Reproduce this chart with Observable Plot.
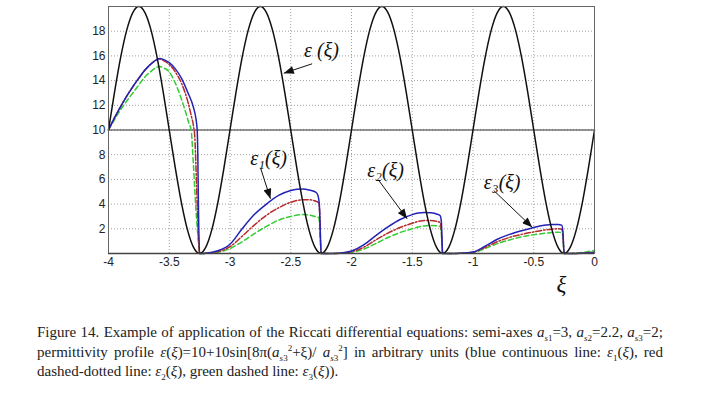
<!DOCTYPE html>
<html>
<head>
<meta charset="utf-8">
<script src="https://cdn.jsdelivr.net/npm/d3@7"></script>
<script src="https://cdn.jsdelivr.net/npm/@observablehq/plot@0.6"></script>
<style>
  body { margin: 0; background: #fff; }
  #chart svg { display: block; }
  .cap { font-family: "Liberation Serif", "Times New Roman", serif; font-size: 15px; line-height: 19.5px; color: #222; width: 626px; margin-left: 37px; }
  .cap .j { text-align: justify; text-align-last: justify; }
  .cap sub, .cap sup { font-size: 9px; line-height: 0; }
</style>
</head>
<body>
<div id="chart"></div>
<div class="cap" style="margin-top:13px">
  <div class="j">Figure 14. Example of application of the Riccati differential equations: semi-axes <i>a</i><sub><i>s</i>1</sub>=3, <i>a</i><sub><i>s</i>2</sub>=2.2, <i>a</i><sub><i>s</i>3</sub>=2;</div>
  <div class="j">permittivity profile <i>ε</i>(<i>ξ</i>)=10+10sin[8π(<i>a</i><sub><i>s</i>3</sub><sup>2</sup>+ξ)/ <i>a</i><sub><i>s</i>3</sub><sup>2</sup>] in arbitrary units (blue continuous line: <i>ε</i><sub>1</sub>(<i>ξ</i>), red</div>
  <div>dashed-dotted line: <i>ε</i><sub>2</sub>(<i>ξ</i>), green dashed line: <i>ε</i><sub>3</sub>(<i>ξ</i>)).</div>
</div>
<script>
const xTicks = [-4, -3.5, -3, -2.5, -2, -1.5, -1, -0.5, 0];
const yTicks = [2, 4, 6, 8, 10, 12, 14, 16, 18];

// permittivity profile epsilon(xi), sampled every 0.05 from -4 to 0
const epsValues = [
  10, 13.09, 15.88, 18.09, 19.51, 20, 19.51, 18.09, 15.88, 13.09, 10, 6.91, 4.12, 1.91, 0.49, 0, 0.49, 1.91, 4.12, 6.91,
  10, 13.09, 15.88, 18.09, 19.51, 20, 19.51, 18.09, 15.88, 13.09, 10, 6.91, 4.12, 1.91, 0.49, 0, 0.49, 1.91, 4.12, 6.91,
  10, 13.09, 15.88, 18.09, 19.51, 20, 19.51, 18.09, 15.88, 13.09, 10, 6.91, 4.12, 1.91, 0.49, 0, 0.49, 1.91, 4.12, 6.91,
  10, 13.09, 15.88, 18.09, 19.51, 20, 19.51, 18.09, 15.88, 13.09, 10, 6.91, 4.12, 1.91, 0.49, 0, 0.49, 1.91, 4.12, 6.91,
  10
];
const epsXi = epsValues.map((_, i) => -4 + i * 0.05);

// eps1 (blue, continuous)
const eps1 = [
  [-4, 10], [-3.95, 11], [-3.9, 11.9], [-3.85, 12.75], [-3.8, 13.5], [-3.75, 14.2], [-3.7, 14.85], [-3.65, 15.35],
  [-3.6, 15.72], [-3.58, 15.78], [-3.55, 15.72], [-3.5, 15.45], [-3.45, 14.95], [-3.4, 14.2], [-3.35, 13.1],
  [-3.3, 11.8], [-3.28, 10.9], [-3.27, 10], [-3.265, 8], [-3.26, 4], [-3.25, 0],
  [-3.2, 0.02], [-3.1, 0.22], [-3.0, 0.75], [-2.9, 2.0], [-2.8, 3.15], [-2.7, 4.0], [-2.6, 4.7], [-2.5, 5.1],
  [-2.45, 5.2], [-2.4, 5.22], [-2.35, 5.15], [-2.3, 5.0], [-2.28, 4.8], [-2.265, 4.0], [-2.25, 0],
  [-2.2, 0], [-2.1, 0.03], [-2.0, 0.2], [-1.9, 0.7], [-1.8, 1.45], [-1.7, 2.15], [-1.6, 2.75], [-1.5, 3.15],
  [-1.45, 3.28], [-1.4, 3.33], [-1.35, 3.3], [-1.3, 3.2], [-1.27, 3.05], [-1.26, 2.5], [-1.25, 0],
  [-1.2, 0], [-1.1, 0.02], [-1.0, 0.12], [-0.9, 0.6], [-0.8, 1.15], [-0.7, 1.55], [-0.6, 1.85], [-0.5, 2.1],
  [-0.45, 2.22], [-0.4, 2.3], [-0.35, 2.35], [-0.3, 2.35], [-0.27, 2.3], [-0.26, 1.8], [-0.25, 0],
  [-0.2, 0], [-0.1, 0.02], [0, 0.08]
];
// eps2 (red, dash-dot)
const eps2 = [
  [-4, 10], [-3.95, 11], [-3.9, 11.9], [-3.85, 12.75], [-3.8, 13.5], [-3.75, 14.2], [-3.7, 14.85], [-3.65, 15.35],
  [-3.6, 15.7], [-3.58, 15.75], [-3.55, 15.65], [-3.5, 15.3], [-3.45, 14.7], [-3.4, 13.8], [-3.35, 12.4],
  [-3.32, 11.2], [-3.3, 10.3], [-3.29, 9.5], [-3.28, 7], [-3.27, 4], [-3.25, 0],
  [-3.2, 0.02], [-3.1, 0.15], [-3.0, 0.55], [-2.9, 1.4], [-2.8, 2.3], [-2.7, 3.1], [-2.6, 3.7], [-2.5, 4.15],
  [-2.4, 4.35], [-2.35, 4.35], [-2.3, 4.25], [-2.27, 4.1], [-2.26, 3.0], [-2.25, 0],
  [-2.2, 0], [-2.1, 0.03], [-2.0, 0.15], [-1.9, 0.5], [-1.8, 1.1], [-1.7, 1.65], [-1.6, 2.1], [-1.5, 2.45],
  [-1.45, 2.6], [-1.4, 2.67], [-1.35, 2.67], [-1.3, 2.6], [-1.27, 2.5], [-1.26, 1.8], [-1.25, 0],
  [-1.2, 0], [-1.1, 0.02], [-1.0, 0.1], [-0.9, 0.5], [-0.8, 0.95], [-0.7, 1.3], [-0.6, 1.55], [-0.5, 1.75],
  [-0.4, 1.92], [-0.35, 1.97], [-0.3, 2.0], [-0.27, 1.97], [-0.26, 1.5], [-0.25, 0],
  [-0.2, 0], [-0.1, 0.03], [0, 0.12]
];
// eps3 (green, dashed)
const eps3 = [
  [-4, 10], [-3.95, 10.85], [-3.9, 11.65], [-3.85, 12.35], [-3.8, 13.0], [-3.75, 13.65], [-3.7, 14.3], [-3.65, 14.75],
  [-3.6, 15.1], [-3.58, 15.15], [-3.55, 15.05], [-3.5, 14.7], [-3.45, 13.8], [-3.4, 12.5], [-3.37, 11.6],
  [-3.34, 10.6], [-3.32, 10], [-3.3, 7], [-3.28, 3.5], [-3.26, 1], [-3.25, 0],
  [-3.2, 0.01], [-3.1, 0.1], [-3.0, 0.4], [-2.9, 0.95], [-2.8, 1.6], [-2.7, 2.2], [-2.6, 2.7], [-2.5, 3.0],
  [-2.4, 3.15], [-2.35, 3.12], [-2.3, 3.0], [-2.27, 2.9], [-2.26, 2.0], [-2.25, 0],
  [-2.2, 0], [-2.1, 0.02], [-2.0, 0.1], [-1.9, 0.35], [-1.8, 0.8], [-1.7, 1.3], [-1.6, 1.7], [-1.5, 2.0],
  [-1.45, 2.15], [-1.4, 2.23], [-1.35, 2.27], [-1.3, 2.25], [-1.27, 2.2], [-1.26, 1.5], [-1.25, 0],
  [-1.2, 0], [-1.1, 0.02], [-1.0, 0.08], [-0.9, 0.4], [-0.8, 0.8], [-0.7, 1.1], [-0.6, 1.35], [-0.5, 1.52],
  [-0.4, 1.65], [-0.35, 1.7], [-0.3, 1.72], [-0.27, 1.7], [-0.26, 1.3], [-0.25, 0],
  [-0.2, 0.01], [-0.1, 0.08], [0, 0.25]
];

const labels = [
  {text: "ε (ξ)", x: -2.247, y: 16.44},
  {text: "ε₁(ξ)", x: -2.683, y: 7.69},
  {text: "ε₂(ξ)", x: -1.72, y: 6.72},
  {text: "ε₃(ξ)", x: -0.76, y: 5.77}
];
const pointers = [
  {x1: -2.324, y1: 15.36, x2: -2.557, y2: 14.6},
  {x1: -2.749, y1: 6.94, x2: -2.667, y2: 4.43},
  {x1: -1.775, y1: 5.91, x2: -1.542, y2: 2.81},
  {x1: -0.829, y1: 5.1, x2: -0.513, y2: 2.13}
];
const axisLabel = [{text: "ξ", x: -0.272, y: 0}];

const epsData = epsValues.map((v, i) => ({x: epsXi[i], y: v}));
const toObj = arr => arr.map(([x, y]) => ({x, y}));

const plot = Plot.plot({
  width: 707,
  height: 310,
  marginTop: 6,
  marginLeft: 108,
  marginRight: 113,
  marginBottom: 57,
  style: {fontFamily: "'Liberation Sans', Arial, sans-serif", fontSize: "12px", color: "#222", background: "#fff"},
  x: {domain: [-4, 0]},
  y: {domain: [0, 20]},
  marks: [
    Plot.gridX(xTicks.slice(1, -1), {stroke: "#888", strokeOpacity: 1, strokeWidth: 0.8, strokeDasharray: "1,2"}),
    Plot.gridY(yTicks, {stroke: "#888", strokeOpacity: 1, strokeWidth: 0.8, strokeDasharray: "1,2"}),
    Plot.ruleY([10], {stroke: "#333", strokeWidth: 1.2}),
    Plot.line(toObj(eps3), {x: "x", y: "y", stroke: "#33cc33", strokeWidth: 1.5, strokeDasharray: "5,3", curve: "monotone-x"}),
    Plot.line(toObj(eps2), {x: "x", y: "y", stroke: "#b52a2a", strokeWidth: 1.5, strokeDasharray: "6,2,1.5,2", curve: "monotone-x"}),
    Plot.line(toObj(eps1), {x: "x", y: "y", stroke: "#2222b8", strokeWidth: 1.5, curve: "monotone-x"}),
    Plot.line(epsData, {x: "x", y: "y", stroke: "#111", strokeWidth: 1.5, curve: "monotone-x"}),
    Plot.frame({stroke: "#666", strokeWidth: 1}),
    Plot.ruleY([0], {stroke: "#444", strokeWidth: 1.5}),
    Plot.axisX(xTicks, {tickSize: 0, tickPadding: 4, tickFormat: d => String(d), label: null}),
    Plot.axisY(yTicks, {tickSize: 0, tickPadding: 3, tickFormat: d => String(d), label: null}),
    Plot.link(pointers, {x1: "x1", y1: "y1", x2: "x2", y2: "y2", stroke: "#111", strokeWidth: 1}),
    Plot.text(labels, {x: "x", y: "y", text: "text", fontSize: 20, fontFamily: "'Liberation Serif', 'Times New Roman', serif", fontStyle: "italic", fill: "#111"}),
    Plot.text(axisLabel, {x: "x", y: "y", text: "text", dy: 31, fontSize: 23, fontFamily: "'Liberation Serif', 'Times New Roman', serif", fontStyle: "italic", fill: "#111"})
  ]
});

document.getElementById("chart").appendChild(plot);

// filled arrowheads for the pointer links
const svg = d3.select(plot);
const defs = svg.insert("defs", ":first-child");
defs.append("marker")
  .attr("id", "ahead")
  .attr("viewBox", "0 0 10 8")
  .attr("refX", 10).attr("refY", 4)
  .attr("markerWidth", 11).attr("markerHeight", 8)
  .attr("markerUnits", "userSpaceOnUse")
  .attr("orient", "auto")
  .append("path").attr("d", "M0,0L10,4L0,8Z").attr("fill", "#111");
svg.selectAll("g[aria-label='link'] path").attr("marker-end", "url(#ahead)");
</script>
</body>
</html>
